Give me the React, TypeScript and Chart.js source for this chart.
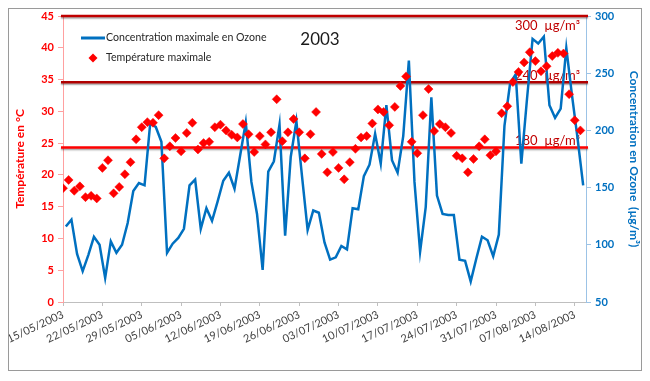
import { useEffect, useRef } from "react";
import { Chart, registerables } from "chart.js";

Chart.register(...registerables);

const FONT = "Lato";

// Daily values, 15/05/2003 -> 15/08/2003
const temperature = [
  17.9, 19.2, 17.5, 18.2, 16.5, 16.7, 16.3, 21.1, 22.3, 17.1,
  18.1, 20.1, 22.0, 25.6, 27.5, 28.3, 28.2, 29.4, 22.6, 24.5,
  25.8, 23.7, 26.6, 28.2, 24.0, 25.0, 25.2, 27.5, 27.9, 27.0,
  26.3, 25.9, 28.0, 26.4, 23.6, 26.1, 24.8, 26.7, 31.9, 25.3,
  26.7, 28.8, 26.7, 22.6, 26.4, 29.9, 23.3, 20.4, 23.6, 21.1,
  19.3, 22.0, 24.1, 25.9, 26.1, 28.1, 30.3, 29.9, 27.8, 30.7,
  34.0, 35.5, 25.2, 23.4, 29.4, 33.5, 26.9, 28.0, 27.5, 26.6,
  23.0, 22.6, 20.4, 22.5, 24.5, 25.6, 23.1, 23.7, 29.7, 30.8,
  34.6, 36.2, 37.7, 39.3, 37.9, 36.3, 37.1, 38.7, 39.2, 39.1,
  32.7, 28.6, 27.0,
];

const ozone = [
  116, 122, 92, 77, 91, 107, 100, 71, 103, 93,
  100, 119, 147, 154, 152, 206, 203, 190, 93, 101,
  106, 114, 152, 157, 114, 132, 121, 138, 156, 163,
  149, 178, 207, 155, 127, 78, 164, 173, 205, 108,
  177, 208, 160, 113, 130, 128, 102, 87, 89, 99,
  96, 132, 131, 160, 170, 197, 171, 222, 174, 163,
  195, 261, 155, 94, 133, 229, 143, 127, 126, 126,
  87, 86, 68, 88, 107, 104, 90, 109, 204, 241,
  249, 171, 227, 280, 276, 282, 222, 211, 219, 272,
  231, 193, 152,
];

const xTickLabels = [
  "15/05/2003", "22/05/2003", "29/05/2003", "05/06/2003", "12/06/2003",
  "19/06/2003", "26/06/2003", "03/07/2003", "10/07/2003", "17/07/2003",
  "24/07/2003", "31/07/2003", "07/08/2003", "14/08/2003",
];

const thresholdValues = [300, 242, 185];
const thresholdLabels = ["300  µg/m³", "240  µg/m³", "180  µg/m³"];
const thresholdLineColors = ["#c00000", "#b00000", "#ff0000"];

const seriesNames = ["Concentration maximale en Ozone", "Température maximale"];
const chartTitle = "2003";

const pad = (n: number) => (n < 10 ? "0" + n : "" + n);
const dayLabels = ozone.map((_, i) => {
  const d = new Date(2003, 4, 15 + i);
  return pad(d.getDate()) + "/" + pad(d.getMonth() + 1) + "/" + d.getFullYear();
});

const BLUE = "#0070c0";
const RED = "#ff0000";

const overlayPlugin = {
  id: "overlay",
  beforeDatasetsDraw(chart: any) {
    const { ctx, chartArea, scales } = chart;
    const y2 = scales.y2;
    thresholdValues.forEach((v, i) => {
      const py = y2.getPixelForValue(v);
      ctx.save();
      ctx.strokeStyle = thresholdLineColors[i];
      ctx.lineWidth = 2.5;
      ctx.shadowColor = "rgba(0,0,0,0.35)";
      ctx.shadowOffsetY = 1.5;
      ctx.shadowBlur = 1.5;
      ctx.beginPath();
      ctx.moveTo(chartArea.left - 2, py);
      ctx.lineTo(chartArea.right + 2, py);
      ctx.stroke();
      ctx.restore();

      ctx.save();
      ctx.fillStyle = "#c00000";
      ctx.font = `13px ${FONT}`;
      ctx.textAlign = "right";
      ctx.textBaseline = "middle";
      const ly = i === 0 ? py + 10 : py - 7;
      ctx.fillText(thresholdLabels[i], chartArea.right - 6, ly);
      ctx.restore();
    });
  },
  afterDatasetsDraw(chart: any) {
    const { ctx, chartArea } = chart;
    const lx = chartArea.left + 18;
    const ty = chartArea.top + 22;
    ctx.save();
    // legend: ozone line
    ctx.strokeStyle = BLUE;
    ctx.lineWidth = 3;
    ctx.beginPath();
    ctx.moveTo(lx, ty);
    ctx.lineTo(lx + 24, ty);
    ctx.stroke();
    ctx.fillStyle = "#262626";
    ctx.font = `10.6px ${FONT}`;
    ctx.textBaseline = "middle";
    ctx.textAlign = "left";
    ctx.fillText(seriesNames[0], lx + 25, ty);
    // legend: temperature diamond
    const dy = ty + 20;
    const cx = lx + 12;
    ctx.fillStyle = RED;
    ctx.beginPath();
    ctx.moveTo(cx - 4.5, dy);
    ctx.lineTo(cx, dy - 4.5);
    ctx.lineTo(cx + 4.5, dy);
    ctx.lineTo(cx, dy + 4.5);
    ctx.closePath();
    ctx.fill();
    ctx.fillStyle = "#262626";
    ctx.fillText(seriesNames[1], lx + 25, dy);
    // title
    ctx.fillStyle = "#1a1a1a";
    ctx.font = `17px ${FONT}`;
    ctx.textAlign = "center";
    ctx.fillText(chartTitle, 311, ty + 2);
    ctx.restore();
  },
};

export default function App() {
  const ref = useRef<HTMLCanvasElement>(null);

  useEffect(() => {
    Chart.defaults.font.family = FONT;
    const chart = new Chart(ref.current as HTMLCanvasElement, {
      type: "line",
      data: {
        labels: dayLabels,
        datasets: [
          {
            label: seriesNames[1],
            data: temperature.map((t, i) => ({ x: i, y: t })),
            xAxisID: "x",
            yAxisID: "y",
            showLine: false,
            pointStyle: "rectRot",
            pointRadius: 4.5,
            pointBackgroundColor: RED,
            pointBorderColor: RED,
            pointBorderWidth: 0.5,
            order: 1,
          },
          {
            label: seriesNames[0],
            data: ozone,
            xAxisID: "x2",
            yAxisID: "y2",
            borderColor: BLUE,
            borderWidth: 2.5,
            pointRadius: 0,
            tension: 0,
            fill: false,
            order: 2,
          },
        ] as any,
      },
      options: {
        animation: false,
        responsive: false,
        layout: { padding: { top: 7, left: 0, right: 0, bottom: 0 } },
        plugins: {
          legend: { display: false },
          tooltip: { enabled: false },
          title: { display: false },
        },
        scales: {
          x: {
            type: "linear",
            position: "bottom",
            min: 0,
            max: 93,
            afterFit: (s: any) => {
              s.height = 68;
              s.paddingLeft = 0;
              s.paddingRight = 0;
            },
            ticks: {
              stepSize: 7,
              includeBounds: false,
              autoSkip: false,
              maxRotation: 25,
              minRotation: 25,
              padding: 2,
              color: "#404040",
              font: { family: FONT, size: 11 },
              callback: (v: any) => xTickLabels[Math.round(Number(v) / 7)] ?? "",
            },
            grid: { drawOnChartArea: false, tickLength: 4, color: "#bfbfbf" },
            border: { color: "#bfbfbf", width: 1 },
          },
          x2: {
            type: "category",
            labels: dayLabels,
            offset: true,
            display: false,
          },
          y: {
            position: "left",
            min: 0,
            max: 45,
            afterFit: (s: any) => {
              s.width = 54;
              s.paddingTop = 0;
              s.paddingBottom = 0;
            },
            ticks: {
              stepSize: 5,
              color: RED,
              padding: 4,
              font: { family: FONT, size: 11, weight: "bold" },
            },
            grid: { drawOnChartArea: false, tickLength: 5, color: "#ffa0a0" },
            border: { color: "#ffa0a0", width: 1 },
            title: {
              display: true,
              text: "Température en °C",
              color: RED,
              font: { family: FONT, size: 12, weight: "bold" },
              padding: { top: 4, bottom: 0 },
            },
          },
          y2: {
            position: "right",
            min: 50,
            max: 300,
            afterFit: (s: any) => {
              s.width = 55;
              s.paddingTop = 0;
              s.paddingBottom = 0;
            },
            ticks: {
              stepSize: 50,
              color: BLUE,
              padding: 4,
              font: { family: FONT, size: 11, weight: "bold" },
            },
            grid: { drawOnChartArea: false, tickLength: 5, color: "#9cc3e6" },
            border: { color: "#9cc3e6", width: 1 },
            title: {
              display: true,
              text: "Concentration en Ozone  (µg/m³)",
              color: BLUE,
              font: { family: FONT, size: 12, weight: "bold" },
              padding: { top: 0, bottom: 4 },
            },
          },
        },
      } as any,
      plugins: [overlayPlugin],
    });
    return () => chart.destroy();
  }, []);

  return (
    <div
      style={{
        width: 632,
        height: 361,
        border: "1px solid #9a9a9a",
        boxShadow: "1px 1px 1px #c8c8c8",
        background: "#fff",
      }}
    >
      <canvas ref={ref} width={632} height={361} style={{ display: "block", width: 632, height: 361 }} />
    </div>
  );
}
